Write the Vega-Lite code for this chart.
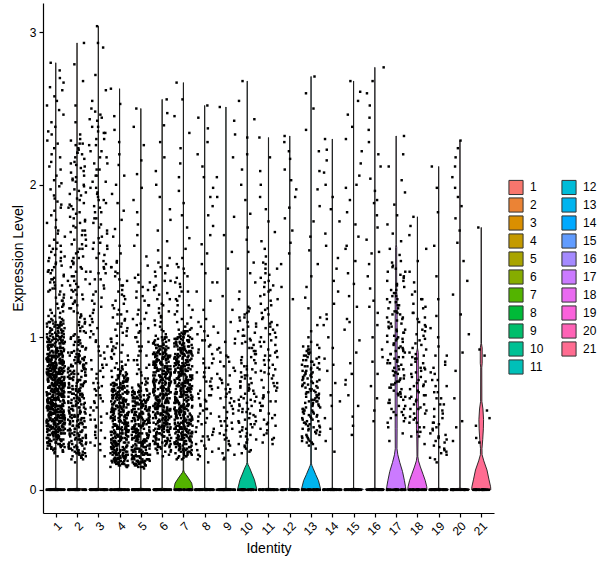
{
  "$schema": "https://vega.github.io/schema/vega-lite/v6.json",
  "width": 451,
  "height": 510,
  "autosize": {"type": "none"},
  "padding": {"left": 43, "top": 3, "right": 106, "bottom": 55},
  "config": {
    "font": "Liberation Sans",
    "view": {"stroke": null},
    "axis": {"grid": false, "domainColor": "#000", "domainWidth": 1.2, "tickColor": "#000", "tickWidth": 1.2, "tickSize": 4,
      "labelColor": "#000", "titleColor": "#000", "labelFontSize": 12, "titleFontSize": 14, "titleFontWeight": "normal"},
    "square": {"size": 6, "color": "#000", "opacity": 1},
    "legend": {"labelFontSize": 12, "labelColor": "#000"}
  },
  "datasets": {
    "violin": [
      {"g":1,"v":0,"w":0.45},{"g":1,"v":0.005,"w":0.45},{"g":1,"v":0.01,"w":0.004},{"g":1,"v":2.8,"w":0.004},
      {"g":2,"v":0,"w":0.45},{"g":2,"v":0.005,"w":0.45},{"g":2,"v":0.01,"w":0.004},{"g":2,"v":2.93,"w":0.004},
      {"g":3,"v":0,"w":0.45},{"g":3,"v":0.005,"w":0.45},{"g":3,"v":0.01,"w":0.004},{"g":3,"v":3.04,"w":0.004},
      {"g":4,"v":0,"w":0.45},{"g":4,"v":0.005,"w":0.45},{"g":4,"v":0.01,"w":0.004},{"g":4,"v":2.63,"w":0.004},
      {"g":5,"v":0,"w":0.45},{"g":5,"v":0.005,"w":0.45},{"g":5,"v":0.01,"w":0.004},{"g":5,"v":2.5,"w":0.004},
      {"g":6,"v":0,"w":0.45},{"g":6,"v":0.005,"w":0.45},{"g":6,"v":0.01,"w":0.004},{"g":6,"v":2.56,"w":0.004},
      {"g":7,"v":0,"w":0.45},{"g":7,"v":0.01,"w":0.44},{"g":7,"v":0.044,"w":0.39},{"g":7,"v":0.077,"w":0.235},{"g":7,"v":0.1,"w":0.12},{"g":7,"v":0.115,"w":0.04},{"g":7,"v":0.13,"w":0.012},{"g":7,"v":0.98,"w":0.01},{"g":7,"v":1.0,"w":0.004},{"g":7,"v":2.67,"w":0.004},
      {"g":8,"v":0,"w":0.45},{"g":8,"v":0.005,"w":0.45},{"g":8,"v":0.01,"w":0.004},{"g":8,"v":2.52,"w":0.004},
      {"g":9,"v":0,"w":0.45},{"g":9,"v":0.005,"w":0.45},{"g":9,"v":0.01,"w":0.004},{"g":9,"v":2.51,"w":0.004},
      {"g":10,"v":0,"w":0.45},{"g":10,"v":0.01,"w":0.44},{"g":10,"v":0.066,"w":0.34},{"g":10,"v":0.11,"w":0.21},{"g":10,"v":0.145,"w":0.11},{"g":10,"v":0.165,"w":0.04},{"g":10,"v":0.18,"w":0.012},{"g":10,"v":0.85,"w":0.01},{"g":10,"v":0.87,"w":0.004},{"g":10,"v":2.68,"w":0.004},
      {"g":11,"v":0,"w":0.45},{"g":11,"v":0.005,"w":0.45},{"g":11,"v":0.01,"w":0.004},{"g":11,"v":2.31,"w":0.004},
      {"g":12,"v":0,"w":0.45},{"g":12,"v":0.005,"w":0.45},{"g":12,"v":0.01,"w":0.004},{"g":12,"v":2.32,"w":0.004},
      {"g":13,"v":0,"w":0.45},{"g":13,"v":0.01,"w":0.44},{"g":13,"v":0.06,"w":0.35},{"g":13,"v":0.1,"w":0.22},{"g":13,"v":0.14,"w":0.1},{"g":13,"v":0.16,"w":0.04},{"g":13,"v":0.175,"w":0.015},{"g":13,"v":0.79,"w":0.012},{"g":13,"v":0.81,"w":0.004},{"g":13,"v":2.71,"w":0.004},
      {"g":14,"v":0,"w":0.45},{"g":14,"v":0.005,"w":0.45},{"g":14,"v":0.01,"w":0.004},{"g":14,"v":2.3,"w":0.004},
      {"g":15,"v":0,"w":0.45},{"g":15,"v":0.005,"w":0.45},{"g":15,"v":0.01,"w":0.004},{"g":15,"v":2.68,"w":0.004},
      {"g":16,"v":0,"w":0.45},{"g":16,"v":0.005,"w":0.45},{"g":16,"v":0.01,"w":0.004},{"g":16,"v":2.77,"w":0.004},
      {"g":17,"v":0,"w":0.45},{"g":17,"v":0.02,"w":0.44},{"g":17,"v":0.06,"w":0.39},{"g":17,"v":0.12,"w":0.3},{"g":17,"v":0.18,"w":0.17},{"g":17,"v":0.23,"w":0.08},{"g":17,"v":0.27,"w":0.04},{"g":17,"v":0.4,"w":0.045},{"g":17,"v":1.27,"w":0.045},{"g":17,"v":1.3,"w":0.025},{"g":17,"v":1.59,"w":0.025},{"g":17,"v":1.61,"w":0.004},{"g":17,"v":2.32,"w":0.004},
      {"g":18,"v":0,"w":0.45},{"g":18,"v":0.02,"w":0.44},{"g":18,"v":0.06,"w":0.37},{"g":18,"v":0.1,"w":0.27},{"g":18,"v":0.15,"w":0.14},{"g":18,"v":0.19,"w":0.05},{"g":18,"v":0.22,"w":0.02},{"g":18,"v":0.35,"w":0.03},{"g":18,"v":0.4,"w":0.045},{"g":18,"v":0.9,"w":0.04},{"g":18,"v":0.93,"w":0.004},{"g":18,"v":1.79,"w":0.004},
      {"g":19,"v":0,"w":0.45},{"g":19,"v":0.005,"w":0.45},{"g":19,"v":0.01,"w":0.004},{"g":19,"v":2.12,"w":0.004},
      {"g":20,"v":0,"w":0.45},{"g":20,"v":0.005,"w":0.45},{"g":20,"v":0.01,"w":0.004},{"g":20,"v":2.29,"w":0.004},
      {"g":21,"v":0,"w":0.45},{"g":21,"v":0.02,"w":0.44},{"g":21,"v":0.07,"w":0.36},{"g":21,"v":0.13,"w":0.27},{"g":21,"v":0.19,"w":0.12},{"g":21,"v":0.23,"w":0.04},{"g":21,"v":0.27,"w":0.035},{"g":21,"v":0.33,"w":0.07},{"g":21,"v":0.4,"w":0.1},{"g":21,"v":0.46,"w":0.11},{"g":21,"v":0.53,"w":0.08},{"g":21,"v":0.58,"w":0.03},{"g":21,"v":0.8,"w":0.025},{"g":21,"v":0.83,"w":0.045},{"g":21,"v":0.93,"w":0.045},{"g":21,"v":0.96,"w":0.012},{"g":21,"v":1.72,"w":0.004}
    ],
    "g1": [0,0,0,0,0,0,0,0,0,0,0,0,0,0,0,0,0,0,0,0,0,0,0,0,0,0,0,0,0,0,0,0,
      0.22,0.24,0.25,0.26,0.27,0.27,0.28,0.29,0.29,0.3,0.31,0.31,0.32,0.32,0.33,0.33,0.34,0.34,0.35,0.35,0.36,0.36,0.37,0.37,0.38,0.38,0.38,0.39,0.39,0.4,0.4,0.41,0.41,0.41,0.42,0.42,0.43,0.43,0.43,0.44,0.44,0.45,0.45,0.45,0.46,0.46,0.47,0.47,0.47,0.48,0.48,0.49,0.49,0.49,0.5,0.5,0.51,0.51,0.51,0.52,0.52,0.53,0.53,0.53,0.54,0.54,0.55,0.55,0.55,0.56,0.56,0.57,0.57,0.57,0.58,0.58,0.59,0.59,0.59,0.6,0.6,0.61,0.61,0.61,0.62,0.62,0.63,0.63,0.63,0.64,0.64,0.65,0.65,0.65,0.66,0.66,0.67,0.67,0.68,0.68,0.69,0.69,0.69,0.7,0.7,0.71,0.71,0.72,0.72,0.72,0.73,0.73,0.74,0.74,0.75,0.75,0.76,0.76,0.77,0.77,0.78,0.78,0.79,0.79,0.8,0.8,0.81,0.81,0.82,0.82,0.83,0.83,0.84,0.84,0.85,0.85,0.86,0.86,0.87,0.88,0.88,0.89,0.89,0.9,0.91,0.91,0.92,0.93,0.93,0.94,0.95,0.95,0.96,0.97,0.97,0.98,0.99,1.0,1.0,1.01,1.02,1.03,1.04,1.05,1.06,1.07,1.08,1.09,1.1,1.11,1.13,1.14,1.16,1.17,1.19,1.21,1.22,1.24,1.26,1.28,1.3,1.32,1.34,1.36,1.39,1.41,1.44,1.47,1.5,1.53,1.56,1.6,1.64,1.68,1.72,1.77,1.8,1.85,1.89,1.93,1.97,2.01,2.06,2.1,2.15,2.2,2.24,2.29,2.35,2.41,2.46,2.52,2.58,2.64,2.7,2.8,1.31,1.38,1.43,1.49,1.52,1.58,1.62,1.66,1.7,1.75,1.83,1.87,1.91,1.99,2.03,2.12,2.18,2.27,2.33,2.38,2.49,2.55,2.62,2.67,2.75,
      0.3,0.31,0.32,0.33,0.34,0.35,0.36,0.37,0.38,0.39,0.4,0.41,0.42,0.43,0.44,0.45,0.46,0.47,0.48,0.49,0.5,0.51,0.52,0.53,0.54,0.55,0.56,0.57,0.58,0.59,0.6,0.61,0.62,0.63,0.64,0.65,0.66,0.67,0.68,0.69,0.7,0.71,0.72,0.73,0.74,0.75,0.76,0.77,0.78,0.79,0.8,0.81,0.82,0.83,0.84,0.85,0.86,0.87,0.88,0.89,0.9,0.91,0.92,0.93,0.94,0.95,0.96,0.97,0.98,0.99,1.0,1.01,1.02,1.03,1.04,1.05,1.06,1.07,1.08,1.09,1.1,
      0.35,0.36,0.37,0.38,0.39,0.4,0.41,0.42,0.43,0.44,0.45,0.46,0.47,0.48,0.49,0.5,0.51,0.52,0.53,0.54,0.55,0.56,0.57,0.58,0.59,0.6,0.61,0.62,0.63,0.64,0.65,0.66,0.67,0.68,0.69,0.7,0.71,0.72,0.73,0.74,0.75,0.76,0.77,0.78,0.79,0.8,0.81,0.82,0.83,0.84,0.85,0.86,0.87,0.88,0.89,0.9,0.91,0.92,0.93,0.94,0.95,0.96,0.97,0.98,0.99,1.0,
      0.4,0.41,0.42,0.43,0.44,0.45,0.46,0.47,0.48,0.49,0.5,0.51,0.52,0.53,0.54,0.55,0.56,0.57,0.58,0.59,0.6,0.61,0.62,0.63,0.64,0.65,0.66,0.67,0.68,0.69,0.7,0.71,0.72,0.73,0.74,0.75,0.76,0.77,0.78,0.79,0.8,0.81,0.82,0.83,0.84,0.85,0.86,0.87,0.88,0.89,0.9,
      0.25,0.27,0.29,0.31,0.33,0.35,0.37,0.39,0.41,0.43,0.45,0.47,0.49,0.51,0.53,0.55,0.57,0.59,1.12,1.14,1.16,1.18,1.2,1.22,1.24,1.26,1.28,1.3,1.32,1.34,1.36,1.38,1.4,1.42,1.44,1.46,1.48,1.5,1.52,1.54,1.56,1.58,1.6,
      0.25,0.26,0.27,0.28,0.29,0.3,0.31,0.32,0.33,0.34,0.35,0.36,0.37,0.38,0.39,0.4,0.41,0.42,0.43,0.44,0.45,0.46,0.47,0.48,0.49,0.5,0.51,0.52,0.53,0.54,0.55,0.56,0.57,0.58,0.59,0.6,0.61,0.62,0.63,0.64,0.65,0.66,0.67,0.68,0.69,0.7,0.71,0.72,0.73,0.74,0.75,0.76,0.77,0.78,0.79,0.8,0.81,0.82,0.83,0.84,0.85,0.86,0.87,0.88,0.89,0.9,0.91,0.92,0.93,0.94,0.95,0.96,0.97,0.98,0.99,1.0,1.01,1.02,1.03,1.04,1.05,1.06,1.07,1.08,1.09,1.1,1.11,1.12,
      0.27,0.28,0.29,0.3,0.31,0.32,0.33,0.34,0.35,0.36,0.37,0.38,0.39,0.4,0.41,0.42,0.43,0.44,0.45,0.46,0.47,0.48,0.49,0.5,0.51,0.52,0.53,0.54,0.55,0.56,0.57,0.58,0.59,0.6,0.61,0.62,0.63,0.64,0.65,0.66,0.67,0.68,0.69,0.7,0.71,0.72,0.73,0.74,0.75,0.76,0.77,0.78,0.79,0.8,0.81,0.82,0.83,0.84,0.85,0.86,0.87,0.88,0.89,0.9,0.91,0.92,0.93,0.94,0.95,0.96,0.97,0.98,0.99,1.0,1.01,1.02,1.03,1.04,1.05,1.06,1.07,1.08,1.09,1.1,
      0.45,0.46,0.47,0.48,0.49,0.5,0.51,0.52,0.53,0.54,0.55,0.56,0.57,0.58,0.59,0.6,0.61,0.62,0.63,0.64,0.65,0.66,0.67,0.68,0.69,0.7,0.71,0.72,0.73,0.74,0.75,0.76,0.77,0.78,0.79,0.8,0.81,0.82,0.83,0.84,0.85],
    "g2": [0,0,0,0,0,0,0,0,0,0,0,0,0,0,0,0,0,0,0,0,0,0,0,0,0,0,0,0,0,0,0,0,
      0.18,0.2,0.21,0.22,0.23,0.24,0.24,0.25,0.26,0.27,0.27,0.28,0.29,0.3,0.3,0.31,0.32,0.33,0.33,0.34,0.35,0.36,0.36,0.37,0.38,0.39,0.39,0.4,0.41,0.42,0.42,0.43,0.44,0.45,0.45,0.46,0.47,0.48,0.48,0.49,0.5,0.51,0.51,0.52,0.53,0.54,0.54,0.55,0.56,0.57,0.57,0.58,0.59,0.6,0.6,0.61,0.62,0.63,0.63,0.64,0.65,0.66,0.66,0.67,0.68,0.69,0.7,0.71,0.72,0.72,0.73,0.74,0.75,0.76,0.77,0.78,0.79,0.8,0.81,0.82,0.83,0.84,0.85,0.86,0.87,0.88,0.9,0.91,0.92,0.94,0.95,0.97,0.98,1.0,1.02,1.04,1.06,1.08,1.1,1.12,1.14,1.17,1.19,1.21,1.23,1.26,1.28,1.3,1.33,1.35,1.38,1.4,1.43,1.45,1.48,1.5,1.53,1.56,1.58,1.61,1.64,1.67,1.7,1.72,1.75,1.78,1.81,1.84,1.87,1.9,1.93,1.96,1.99,2.02,2.05,2.08,2.11,2.14,2.17,2.2,2.23,2.26,2.29,2.33,2.41,2.52,2.68,2.79,2.93,1.03,1.09,1.15,1.24,1.31,1.37,1.46,1.52,1.6,1.69,1.77,1.86,1.95,2.04,2.13,2.21,2.27,
      0.2,0.21,0.22,0.23,0.24,0.25,0.26,0.27,0.28,0.29,0.3,0.31,0.32,0.33,0.34,0.35,0.36,0.37,0.38,0.39,0.4,0.41,0.42,0.43,0.44,0.45,0.46,0.47,0.48,0.49,0.5,0.51,0.52,0.53,0.54,0.55,0.56,0.57,0.58,0.59,0.6,0.61,0.62,0.63,0.64,0.65,0.66,0.67,0.68,0.69,0.7,0.71,0.72,0.73,0.74,0.75,0.76,0.77,0.78,0.79,0.8,0.81,0.82,0.83,0.84,0.85,0.86,0.87,0.88,0.89,0.9,0.91,0.92,0.93,0.94,0.95,0.96,0.97,0.98,0.99,1.0,
      1.01,1.04,1.07,1.1,1.13,1.16,1.19,1.22,1.25,1.28,1.31,1.34,1.37,1.4,1.43,1.46,1.49,1.52,1.55,1.58,1.61,1.64,1.67,1.7,1.73,1.76,1.79,1.82,1.85,1.88,1.91,1.94,1.97,2.0,2.03,2.06,2.09,2.12,2.15,2.18,2.21,2.24,2.27,2.3,
      0.22,0.23,0.24,0.25,0.26,0.27,0.28,0.29,0.3,0.31,0.32,0.33,0.34,0.35,0.36,0.37,0.38,0.39,0.4,0.41,0.42,0.43,0.44,0.45,0.46,0.47,0.48,0.49,0.5,0.51,0.52,0.53,0.54,0.55,0.56,0.57,0.58,0.59,0.6,0.61,0.62,0.63,0.64,0.65,0.66,0.67,0.68,0.69,0.7,0.71,0.72,0.73,0.74,0.75,0.76,0.77,0.78,0.79,0.8,0.81,0.82,0.83,0.84,0.85,0.86,0.87,0.88,0.89,0.9],
    "g3": [0,0,0,0,0,0,0,0,0,0,0,0,0,0,0,0,0,0,0,0,0,0,0,0,0,0,0,0,0,0,0,0,
      0.22,0.26,0.29,0.31,0.34,0.36,0.39,0.41,0.44,0.46,0.49,0.52,0.54,0.57,0.6,0.62,0.65,0.68,0.7,0.73,0.76,0.79,0.82,0.85,0.88,0.91,0.94,0.97,1.0,1.04,1.08,1.12,1.16,1.2,1.24,1.28,1.32,1.35,1.38,1.42,1.45,1.48,1.52,1.55,1.58,1.62,1.65,1.68,1.72,1.75,1.78,1.82,1.85,1.88,1.92,1.95,1.98,2.02,2.06,2.1,2.14,2.18,2.22,2.26,2.3,2.34,2.38,2.43,2.48,2.55,2.62,2.72,2.9,2.93,3.04,0.48,0.58,0.67,0.8,1.43,1.6,1.9,2.35,2.44,2.5,
      0.3,0.34,0.38,0.42,0.46,0.5,0.54,0.58,0.62,0.66,0.7,0.74,0.78,0.82,0.86,0.9,0.94,0.98,1.02,1.06,1.1,1.14,1.18,1.22,1.26,1.3,1.34,1.38,1.42,1.46,1.5,1.54,1.58,1.62,1.66,1.7,1.74,1.78,1.82,1.86,1.9,1.94,1.98,2.02,2.06,2.1,2.14,2.18,2.22,2.26,2.3,2.34,2.38,2.42,2.46],
    "g4": [0,0,0,0,0,0,0,0,0,0,0,0,0,0,0,0,0,0,0,0,0,0,0,0,0,0,0,0,0,0,0,0,
      0.15,0.16,0.17,0.17,0.18,0.19,0.19,0.2,0.21,0.21,0.22,0.23,0.23,0.24,0.25,0.25,0.26,0.27,0.27,0.28,0.29,0.29,0.3,0.31,0.31,0.32,0.33,0.33,0.34,0.35,0.35,0.36,0.37,0.37,0.38,0.39,0.39,0.4,0.41,0.41,0.42,0.43,0.43,0.44,0.45,0.45,0.46,0.47,0.47,0.48,0.49,0.49,0.5,0.51,0.51,0.52,0.53,0.54,0.55,0.55,0.56,0.57,0.58,0.59,0.6,0.6,0.61,0.62,0.63,0.64,0.65,0.66,0.67,0.68,0.69,0.7,0.71,0.72,0.73,0.74,0.75,0.76,0.77,0.78,0.79,0.8,0.82,0.84,0.86,0.88,0.9,0.92,0.94,0.96,0.99,1.01,1.04,1.06,1.09,1.12,1.15,1.18,1.21,1.24,1.27,1.3,1.34,1.38,1.42,1.46,1.5,1.55,1.6,1.66,1.71,1.77,1.83,1.88,1.94,2.0,2.06,2.13,2.2,2.28,2.36,2.45,2.53,2.63,
      0.15,0.16,0.17,0.18,0.19,0.2,0.21,0.22,0.23,0.24,0.25,0.26,0.27,0.28,0.29,0.3,0.31,0.32,0.33,0.34,0.35,0.36,0.37,0.38,0.39,0.4,0.41,0.42,0.43,0.44,0.45,0.46,0.47,0.48,0.49,0.5,0.51,0.52,0.53,0.54,0.55,0.56,0.57,0.58,0.59,0.6,0.61,0.62,0.63,0.64,0.65,0.66,0.67,0.68,0.69,0.7,0.71,0.72,0.73,0.74,0.75,0.76,0.77,0.78,0.79,0.8,
      0.18,0.19,0.2,0.21,0.22,0.23,0.24,0.25,0.26,0.27,0.28,0.29,0.3,0.31,0.32,0.33,0.34,0.35,0.36,0.37,0.38,0.39,0.4,0.41,0.42,0.43,0.44,0.45,0.46,0.47,0.48,0.49,0.5,0.51,0.52,0.53,0.54,0.55,0.56,0.57,0.58,0.59,0.6,0.61,0.62,0.63,0.64,0.65,0.66,0.67,0.68,0.69,0.7,0.71,0.72,0.73,0.74,0.75,
      0.81,0.83,0.85,0.87,0.89,0.91,0.93,0.95,0.97,0.99,1.01,1.03,1.05,1.07,1.09,1.11,1.13,1.15,1.17,1.19,1.22,1.25,1.28,1.31,1.34,1.37,1.4,1.43,1.46,1.49,
      0.15,0.16,0.17,0.18,0.19,0.2,0.21,0.22,0.23,0.24,0.25,0.26,0.27,0.28,0.29,0.3,0.31,0.32,0.33,0.34,0.35,0.36,0.37,0.38,0.39,0.4,0.41,0.42,0.43,0.44,0.45,0.46,0.47,0.48,0.49,0.5,0.51,0.52,0.53,0.54,0.55,0.56,0.57,0.58,0.59,0.6,0.61,0.62,0.63,0.64,0.65,0.66,0.67,0.68,0.69,0.7,0.71,0.72,0.73,0.74,0.75,
      0.16,0.17,0.18,0.19,0.2,0.21,0.22,0.23,0.24,0.25,0.26,0.27,0.28,0.29,0.3,0.31,0.32,0.33,0.34,0.35,0.36,0.37,0.38,0.39,0.4,0.41,0.42,0.43,0.44,0.45,0.46,0.47,0.48,0.49,0.5,0.51,0.52,0.53,0.54,0.55,0.56,0.57,0.58,0.59,0.6,0.61,0.62,0.63,0.64,0.65,0.66,0.67,0.68,0.69,0.7],
    "g5": [0,0,0,0,0,0,0,0,0,0,0,0,0,0,0,0,0,0,0,0,0,0,0,0,0,0,0,0,0,0,0,0,
      0.14,0.15,0.16,0.17,0.17,0.18,0.19,0.2,0.2,0.21,0.22,0.23,0.23,0.24,0.25,0.26,0.26,0.27,0.28,0.29,0.29,0.3,0.31,0.32,0.32,0.33,0.34,0.35,0.35,0.36,0.37,0.38,0.38,0.39,0.4,0.41,0.42,0.43,0.44,0.45,0.46,0.47,0.48,0.49,0.5,0.51,0.52,0.53,0.54,0.55,0.56,0.57,0.58,0.6,0.61,0.62,0.64,0.65,0.67,0.69,0.71,0.73,0.75,0.77,0.8,0.82,0.85,0.88,0.91,0.94,0.97,1.0,1.04,1.08,1.12,1.16,1.21,1.26,1.31,1.36,1.41,1.47,1.53,1.6,1.67,1.74,1.82,1.9,1.98,2.07,2.16,2.26,2.38,2.5,
      0.15,0.16,0.17,0.18,0.19,0.2,0.21,0.22,0.23,0.24,0.25,0.26,0.27,0.28,0.29,0.3,0.31,0.32,0.33,0.34,0.35,0.36,0.37,0.38,0.39,0.4,0.41,0.42,0.43,0.44,0.45,0.46,0.47,0.48,0.49,0.5,0.51,0.52,0.53,0.54,0.55,0.56,0.57,0.58,0.59,0.6,0.61,0.62,0.63,0.64,0.65,0.66,0.67,0.68,0.69,0.7,
      0.17,0.18,0.19,0.2,0.21,0.22,0.23,0.24,0.25,0.26,0.27,0.28,0.29,0.3,0.31,0.32,0.33,0.34,0.35,0.36,0.37,0.38,0.39,0.4,0.41,0.42,0.43,0.44,0.45,0.46,0.47,0.48,0.49,0.5,0.51,0.52,0.53,0.54,0.55,0.56,0.57,0.58,0.59,0.6,0.61,0.62,0.63,0.64,0.65,
      0.7,0.73,0.76,0.79,0.82,0.85,0.88,0.91,0.94,0.97,1.0,1.03,1.06,1.09,1.12,1.15,1.18,1.21,1.24,1.27,1.3,1.33,1.36,1.39,
      0.15,0.16,0.17,0.18,0.19,0.2,0.21,0.22,0.23,0.24,0.25,0.26,0.27,0.28,0.29,0.3,0.31,0.32,0.33,0.34,0.35,0.36,0.37,0.38,0.39,0.4,0.41,0.42,0.43,0.44,0.45,0.46,0.47,0.48,0.49,0.5,0.51,0.52,0.53,0.54,0.55,0.56,0.57,0.58,0.59,0.6,0.61,0.62,0.63,0.64,0.65,
      0.16,0.17,0.18,0.19,0.2,0.21,0.22,0.23,0.24,0.25,0.26,0.27,0.28,0.29,0.3,0.31,0.32,0.33,0.34,0.35,0.36,0.37,0.38,0.39,0.4,0.41,0.42,0.43,0.44,0.45,0.46,0.47,0.48,0.49,0.5,0.51,0.52,0.53,0.54,0.55,0.56,0.57,0.58,0.59,0.6],
    "g6": [0,0,0,0,0,0,0,0,0,0,0,0,0,0,0,0,0,0,0,0,0,0,0,0,0,0,0,0,0,0,0,0,
      0.22,0.23,0.24,0.25,0.26,0.27,0.28,0.29,0.3,0.3,0.31,0.32,0.33,0.34,0.35,0.35,0.36,0.37,0.38,0.39,0.4,0.4,0.41,0.42,0.43,0.44,0.45,0.45,0.46,0.47,0.48,0.49,0.5,0.5,0.51,0.52,0.53,0.54,0.55,0.55,0.56,0.57,0.58,0.59,0.6,0.6,0.61,0.62,0.63,0.64,0.65,0.65,0.66,0.67,0.68,0.69,0.7,0.7,0.71,0.72,0.73,0.74,0.75,0.75,0.76,0.77,0.78,0.79,0.8,0.81,0.82,0.83,0.84,0.85,0.86,0.87,0.88,0.89,0.9,0.92,0.93,0.95,0.96,0.98,1.0,1.02,1.05,1.08,1.11,1.14,1.17,1.21,1.25,1.29,1.33,1.37,1.42,1.47,1.52,1.57,1.63,1.7,1.77,1.84,1.92,2.0,2.09,2.18,2.28,2.39,2.47,2.56,
      0.25,0.26,0.27,0.28,0.29,0.3,0.31,0.32,0.33,0.34,0.35,0.36,0.37,0.38,0.39,0.4,0.41,0.42,0.43,0.44,0.45,0.46,0.47,0.48,0.49,0.5,0.51,0.52,0.53,0.54,0.55,0.56,0.57,0.58,0.59,0.6,0.61,0.62,0.63,0.64,0.65,0.66,0.67,0.68,0.69,0.7,0.71,0.72,0.73,0.74,0.75,0.76,0.77,0.78,0.79,0.8,0.81,0.82,0.83,0.84,0.85,0.86,0.87,0.88,0.89,0.9,0.91,0.92,0.93,0.94,0.95,0.96,0.97,0.98,0.99,1.0,
      0.3,0.31,0.32,0.33,0.34,0.35,0.36,0.37,0.38,0.39,0.4,0.41,0.42,0.43,0.44,0.45,0.46,0.47,0.48,0.49,0.5,0.51,0.52,0.53,0.54,0.55,0.56,0.57,0.58,0.59,0.6,0.61,0.62,0.63,0.64,0.65,0.66,0.67,0.68,0.69,0.7,0.71,0.72,0.73,0.74,0.75,0.76,0.77,0.78,0.79,0.8,0.81,0.82,0.83,0.84,0.85,0.86,0.87,0.88,0.89,0.9,0.91,0.92,0.93,0.94,0.95,
      1.01,1.04,1.07,1.1,1.13,1.16,1.19,1.22,1.25,1.28,1.31,1.34,1.37,1.4,1.43,1.46,1.49,
      0.28,0.29,0.3,0.31,0.32,0.33,0.34,0.35,0.36,0.37,0.38,0.39,0.4,0.41,0.42,0.43,0.44,0.45,0.46,0.47,0.48,0.49,0.5,0.51,0.52,0.53,0.54,0.55,0.56,0.57,0.58,0.59,0.6,0.61,0.62,0.63,0.64,0.65,0.66,0.67,0.68,0.69,0.7,0.71,0.72,0.73,0.74,0.75,0.76,0.77,0.78,0.79,0.8,0.81,0.82,0.83,0.84,0.85,0.86,0.87,0.88,0.89,0.9,0.91,0.92,0.93,0.94,0.95,0.96,0.97,0.98,0.99,1.0,
      0.4,0.41,0.42,0.43,0.44,0.45,0.46,0.47,0.48,0.49,0.5,0.51,0.52,0.53,0.54,0.55,0.56,0.57,0.58,0.59,0.6,0.61,0.62,0.63,0.64,0.65,0.66,0.67,0.68,0.69,0.7,0.71,0.72,0.73,0.74,0.75,0.76,0.77,0.78,0.79,0.8,0.81,0.82,0.83,0.84,0.85,0.86,0.87,0.88,0.89,0.9],
    "g7": [0,0,0,0,0,0,0,0,0,0,0,0,0,0,0,0,0,0,0,0,0,0,0,0,0,0,0,0,0,0,0,0,
      0.2,0.21,0.22,0.23,0.24,0.24,0.25,0.26,0.27,0.27,0.28,0.29,0.3,0.3,0.31,0.32,0.33,0.33,0.34,0.35,0.35,0.36,0.37,0.38,0.38,0.39,0.4,0.4,0.41,0.42,0.42,0.43,0.44,0.44,0.45,0.46,0.46,0.47,0.48,0.48,0.49,0.5,0.5,0.51,0.52,0.52,0.53,0.54,0.54,0.55,0.56,0.56,0.57,0.58,0.58,0.59,0.6,0.6,0.61,0.62,0.62,0.63,0.64,0.64,0.65,0.66,0.66,0.67,0.68,0.68,0.69,0.7,0.7,0.71,0.72,0.72,0.73,0.74,0.75,0.75,0.76,0.77,0.78,0.78,0.79,0.8,0.81,0.82,0.83,0.84,0.85,0.86,0.87,0.88,0.89,0.9,0.91,0.92,0.93,0.94,0.96,0.97,0.99,1.0,1.02,1.04,1.07,1.1,1.13,1.17,1.21,1.25,1.3,1.35,1.4,1.46,1.52,1.58,1.65,1.72,1.8,1.88,1.96,2.05,2.14,2.24,2.34,2.45,2.56,2.67,
      0.2,0.21,0.22,0.23,0.24,0.25,0.26,0.27,0.28,0.29,0.3,0.31,0.32,0.33,0.34,0.35,0.36,0.37,0.38,0.39,0.4,0.41,0.42,0.43,0.44,0.45,0.46,0.47,0.48,0.49,0.5,0.51,0.52,0.53,0.54,0.55,0.56,0.57,0.58,0.59,0.6,0.61,0.62,0.63,0.64,0.65,0.66,0.67,0.68,0.69,0.7,0.71,0.72,0.73,0.74,0.75,0.76,0.77,0.78,0.79,0.8,0.81,0.82,0.83,0.84,0.85,0.86,0.87,0.88,0.89,0.9,0.91,0.92,0.93,0.94,0.95,0.96,0.97,0.98,0.99,1.0,1.01,1.02,1.03,1.04,1.05,
      0.25,0.26,0.27,0.28,0.29,0.3,0.31,0.32,0.33,0.34,0.35,0.36,0.37,0.38,0.39,0.4,0.41,0.42,0.43,0.44,0.45,0.46,0.47,0.48,0.49,0.5,0.51,0.52,0.53,0.54,0.55,0.56,0.57,0.58,0.59,0.6,0.61,0.62,0.63,0.64,0.65,0.66,0.67,0.68,0.69,0.7,0.71,0.72,0.73,0.74,0.75,0.76,0.77,0.78,0.79,0.8,0.81,0.82,0.83,0.84,0.85,0.86,0.87,0.88,0.89,0.9,0.91,0.92,0.93,0.94,0.95,0.96,0.97,0.98,0.99,1.0,
      1.06,1.09,1.12,1.15,1.18,1.21,1.24,1.27,1.3,1.33,1.36,1.39,1.42,1.45,1.48,
      0.22,0.23,0.24,0.25,0.26,0.27,0.28,0.29,0.3,0.31,0.32,0.33,0.34,0.35,0.36,0.37,0.38,0.39,0.4,0.41,0.42,0.43,0.44,0.45,0.46,0.47,0.48,0.49,0.5,0.51,0.52,0.53,0.54,0.55,0.56,0.57,0.58,0.59,0.6,0.61,0.62,0.63,0.64,0.65,0.66,0.67,0.68,0.69,0.7,0.71,0.72,0.73,0.74,0.75,0.76,0.77,0.78,0.79,0.8,0.81,0.82,0.83,0.84,0.85,0.86,0.87,0.88,0.89,0.9,0.91,0.92,0.93,0.94,0.95,0.96,0.97,0.98,0.99,1.0,1.01,1.02,1.03,1.04,1.05,
      0.3,0.31,0.32,0.33,0.34,0.35,0.36,0.37,0.38,0.39,0.4,0.41,0.42,0.43,0.44,0.45,0.46,0.47,0.48,0.49,0.5,0.51,0.52,0.53,0.54,0.55,0.56,0.57,0.58,0.59,0.6,0.61,0.62,0.63,0.64,0.65,0.66,0.67,0.68,0.69,0.7,0.71,0.72,0.73,0.74,0.75,0.76,0.77,0.78,0.79,0.8,0.81,0.82,0.83,0.84,0.85,0.86,0.87,0.88,0.89,0.9,0.91,0.92,0.93,0.94,0.95,0.96,0.97,0.98,0.99,1.0],
    "g8": [0,0,0,0,0,0,0,0,0,0,0,0,0,0,0,0,0,0,0,0,0,0,0,0,0,0,0,0,0,0,0,0,
      0.18,0.22,0.25,0.27,0.3,0.33,0.35,0.38,0.4,0.43,0.45,0.48,0.5,0.53,0.55,0.58,0.6,0.63,0.66,0.68,0.71,0.74,0.77,0.8,0.83,0.86,0.9,0.94,0.98,1.02,1.07,1.12,1.18,1.24,1.3,1.36,1.42,1.48,1.55,1.61,1.67,1.73,1.8,1.86,1.92,1.98,2.05,2.12,2.2,2.28,2.37,2.44,2.52,0.36,0.52,0.62,0.73,
      0.2,0.23,0.26,0.29,0.32,0.35,0.38,0.41,0.44,0.47,0.5,0.53,0.56,0.59,0.62,0.65,0.68,0.71,0.74,0.77,0.8,0.83,0.86,0.89,0.92,0.95,0.98,1.01,1.04,1.07,1.1],
    "g9": [0,0,0,0,0,0,0,0,0,0,0,0,0,0,0,0,0,0,0,0,0,0,0,0,0,0,0,0,0,0,0,0,
      0.2,0.23,0.26,0.29,0.32,0.34,0.37,0.4,0.42,0.45,0.47,0.5,0.53,0.55,0.58,0.61,0.64,0.67,0.7,0.73,0.76,0.8,0.84,0.88,0.92,0.97,1.03,1.1,1.18,1.27,1.36,1.45,1.56,1.67,1.79,1.92,2.05,2.18,2.33,2.42,2.51,0.44,0.6,0.66,
      0.21,0.24,0.27,0.3,0.33,0.36,0.39,0.42,0.45,0.48,0.51,0.54,0.57,0.6,0.63,0.66,0.69,0.72,0.75,0.78,0.81,0.84,0.87,0.9,0.93,0.96,0.99],
    "g10": [0,0,0,0,0,0,0,0,0,0,0,0,0,0,0,0,0,0,0,0,0,0,0,0,0,0,0,0,0,0,0,0,
      0.24,0.26,0.28,0.3,0.31,0.33,0.35,0.36,0.38,0.4,0.41,0.43,0.45,0.46,0.48,0.5,0.51,0.53,0.55,0.56,0.58,0.6,0.61,0.63,0.65,0.66,0.68,0.7,0.71,0.73,0.75,0.77,0.79,0.81,0.83,0.85,0.87,0.89,0.91,0.93,0.96,0.98,1.01,1.04,1.07,1.1,1.13,1.16,1.2,1.25,1.3,1.36,1.42,1.49,1.56,1.64,1.72,1.81,1.9,2.0,2.1,2.2,2.31,2.43,2.55,2.68,0.44,0.52,0.59,0.67,0.74,
      0.25,0.27,0.29,0.31,0.33,0.35,0.37,0.39,0.41,0.43,0.45,0.47,0.49,0.51,0.53,0.55,0.57,0.59,0.61,0.63,0.65,0.67,0.69,0.71,0.73,0.75,0.77,0.79,0.81,0.83,0.85,0.87,0.89,0.91,0.93,0.95,0.97,0.99,1.01,1.03,1.05,1.07,1.09,1.11,1.13,1.15,1.17,1.19],
    "g11": [0,0,0,0,0,0,0,0,0,0,0,0,0,0,0,0,0,0,0,0,0,0,0,0,0,0,0,0,0,0,0,0,
      0.3,0.33,0.36,0.39,0.42,0.44,0.47,0.5,0.52,0.55,0.57,0.6,0.62,0.65,0.67,0.7,0.72,0.75,0.77,0.8,0.82,0.85,0.87,0.9,0.92,0.95,0.97,1.0,1.02,1.05,1.08,1.1,1.13,1.16,1.19,1.22,1.25,1.28,1.31,1.34,1.37,1.41,1.45,1.49,1.53,1.58,1.63,1.69,1.76,1.84,1.92,2.0,2.09,2.18,2.31,0.58,0.68,0.78,0.88,0.98,1.07,
      0.31,0.34,0.37,0.4,0.43,0.46,0.49,0.52,0.55,0.58,0.61,0.64,0.67,0.7,0.73,0.76,0.79,0.82,0.85,0.88,0.91,0.94,0.97,1.0,1.03,1.06,1.09,1.12,1.15,1.18,1.21,1.24,1.27,1.3,1.33,1.36,1.39,1.42,1.45,1.48],
    "g12": [0,0,0,0,0,0,0,0,0,0,0,0,0,0,0,0,0,0,0,0,0,0,0,0,0,0,0,0,0,0,0,0,1.25,1.33,1.48,1.55,1.62,1.7,1.78,1.85,1.92,1.97,2.03,2.1,2.17,2.22,2.28,2.32],
    "g13": [0,0,0,0,0,0,0,0,0,0,0,0,0,0,0,0,0,0,0,0,0,0,0,0,0,0,0,0,0,0,0,0,
      0.27,0.29,0.31,0.32,0.34,0.35,0.36,0.38,0.39,0.4,0.41,0.42,0.43,0.44,0.45,0.46,0.47,0.48,0.49,0.5,0.51,0.52,0.52,0.53,0.54,0.55,0.56,0.57,0.58,0.58,0.59,0.6,0.61,0.62,0.63,0.64,0.64,0.65,0.66,0.67,0.68,0.69,0.7,0.71,0.72,0.73,0.74,0.75,0.76,0.77,0.78,0.79,0.8,0.81,0.82,0.84,0.85,0.87,0.88,0.9,0.92,0.94,0.97,1.0,1.04,1.08,1.13,1.19,1.26,1.33,1.4,1.48,1.57,1.66,1.76,1.86,1.97,2.09,2.22,2.36,2.5,2.6,2.71,
      0.3,0.31,0.32,0.33,0.34,0.35,0.36,0.37,0.38,0.39,0.4,0.41,0.42,0.43,0.44,0.45,0.46,0.47,0.48,0.49,0.5,0.51,0.52,0.53,0.54,0.55,0.56,0.57,0.58,0.59,0.6,0.61,0.62,0.63,0.64,0.65,0.66,0.67,0.68,0.69,0.7,0.71,0.72,0.73,0.74,0.75,0.76,0.77,0.78,0.79,0.8,0.81,0.82,0.83,0.84,0.85,0.86,0.87,0.88,0.89,0.9,0.91,0.92,0.93,0.94,0.95],
    "g14": [0,0,0,0,0,0,0,0,0,0,0,0,0,0,0,0,0,0,0,0,0,0,0,0,0,0,0,0,0,0,0,0,0.25,0.32,0.4,0.47,0.55,0.62,0.7,0.78,0.86,0.93,1.0,1.08,1.15,1.22,1.3,1.37,1.45,1.52,1.6,1.68,1.76,1.84,1.92,2.0,2.08,2.16,2.23,2.3,0.58,0.82,1.12],
    "g15": [0,0,0,0,0,0,0,0,0,0,0,0,0,0,0,0,0,0,0,0,0,0,0,0,0,0,0,0,0,0,0,0,0.36,0.42,0.48,0.55,0.62,0.69,0.76,0.83,0.9,0.98,1.05,1.12,1.2,1.27,1.35,1.42,1.5,1.58,1.66,1.74,1.82,1.9,1.98,2.06,2.14,2.22,2.3,2.38,2.46,2.55,2.61,2.68,0.72,1.1,1.6,2.0],
    "g16": [0,0,0,0,0,0,0,0,0,0,0,0,0,0,0,0,0,0,0,0,0,0,0,0,0,0,0,0,0,0,0,0,0.45,0.52,0.6,0.68,0.76,0.84,0.92,1.0,1.08,1.16,1.24,1.32,1.4,1.48,1.56,1.64,1.72,1.8,1.88,1.96,2.04,2.12,2.2,2.28,2.36,2.44,2.52,2.6,2.68,2.77,0.87,1.2,1.55,1.9],
    "g17": [0,0,0,0,0,0,0,0,0,0,0,0,0,0,0,0,0,0,0,0,0,0,0,0,0,0,0,0,0,0,0,0,
      0.32,0.37,0.41,0.44,0.47,0.49,0.51,0.53,0.55,0.57,0.59,0.61,0.62,0.64,0.66,0.67,0.69,0.7,0.72,0.73,0.75,0.76,0.78,0.79,0.8,0.82,0.83,0.85,0.86,0.87,0.89,0.9,0.92,0.93,0.94,0.96,0.97,0.99,1.0,1.01,1.03,1.04,1.06,1.07,1.09,1.1,1.12,1.13,1.15,1.17,1.19,1.21,1.23,1.25,1.27,1.29,1.31,1.34,1.37,1.4,1.43,1.46,1.5,1.54,1.58,1.63,1.68,1.74,1.8,1.87,1.95,2.03,2.12,2.2,2.32,0.63,0.71,0.77,0.84,0.91,0.98,1.05,1.16,
      0.45,0.47,0.49,0.51,0.53,0.55,0.57,0.59,0.61,0.63,0.65,0.67,0.69,0.71,0.73,0.75,0.77,0.79,0.81,0.83,0.85,0.87,0.89,0.91,0.93,0.95,0.97,0.99,1.01,1.03,1.05,1.07,1.09,1.11,1.13,1.15,1.17,1.19,1.21,1.23,1.25,1.27,1.29,1.31,1.33,1.35,1.37,1.39,1.41,1.43,1.45,1.47,1.49],
    "g18": [0,0,0,0,0,0,0,0,0,0,0,0,0,0,0,0,0,0,0,0,0,0,0,0,0,0,0,0,0,0,0,0,
      0.3,0.35,0.38,0.41,0.44,0.46,0.48,0.5,0.52,0.54,0.56,0.58,0.6,0.62,0.64,0.66,0.68,0.7,0.72,0.74,0.76,0.78,0.8,0.82,0.84,0.86,0.88,0.9,0.93,0.96,0.99,1.02,1.05,1.08,1.12,1.16,1.2,1.25,1.3,1.36,1.43,1.5,1.58,1.67,1.73,1.79,0.53,0.61,0.69,0.79,0.87,
      0.35,0.38,0.41,0.44,0.47,0.5,0.53,0.56,0.59,0.62,0.65,0.68,0.71,0.74,0.77,0.8,0.83,0.86,0.89,0.92,0.95,0.98,1.01,1.04,1.07,1.1,1.13,1.16,1.19,1.22,1.25,1.28],
    "g19": [0,0,0,0,0,0,0,0,0,0,0,0,0,0,0,0,0,0,0,0,0,0,0,0,0,0,0,0,0,0,0,0,
      0.18,0.21,0.23,0.25,0.27,0.29,0.31,0.33,0.35,0.37,0.39,0.41,0.44,0.47,0.5,0.53,0.56,0.6,0.64,0.68,0.72,0.77,0.82,0.88,0.94,1.0,1.06,1.14,1.25,1.4,1.6,1.82,1.98,2.12,0.26,0.34,0.43,
      0.2,0.24,0.28,0.32,0.36,0.4,0.44,0.48,0.52,0.56,0.6,0.64,0.68,0.72,0.76,0.8,0.84,0.88],
    "g20": [0,0,0,0,0,0,0,0,0,0,0,0,0,0,0,0,0,0,0,0,0,0,0,0,0,0,0,0,0,0,0,0,0.32,0.41,0.45,0.6,0.78,0.9,1.02,1.15,1.28,1.37,1.5,1.62,1.7,1.78,1.86,1.92,1.98,2.05,2.12,2.18,2.24,2.29],
    "g21": [0,0,0,0,0,0,0,0,0,0,0,0,0,0,0,0,0,0,0,0,0,0,0,0,0,0,0,0,0,0,0,0,0.31,0.34,0.42,0.47,0.52,0.88,0.92,1.72]
  },
  "encoding": {
    "x": {"field": "x", "type": "quantitative", "stack": null, "title": "Identity",
      "scale": {"domain": [0.4, 21.6], "nice": false, "zero": false},
      "axis": {"values": [1,2,3,4,5,6,7,8,9,10,11,12,13,14,15,16,17,18,19,20,21], "format": "d", "labelAngle": -45, "labelAlign": "right", "labelBaseline": "top", "labelPadding": 3, "titlePadding": 4}},
    "y": {"field": "v", "type": "quantitative", "title": "Expression Level",
      "scale": {"domain": [-0.152, 3.192], "nice": false, "zero": false},
      "axis": {"values": [0, 1, 2, 3], "labelPadding": 3, "titlePadding": 4}}
  },
  "layer": [
    {
      "data": {"name": "violin"},
      "transform": [
        {"calculate": "datum.g - datum.w", "as": "x"},
        {"calculate": "datum.g + datum.w", "as": "x2"}
      ],
      "mark": {"type": "area", "orient": "horizontal", "stroke": "#1a1a1a", "strokeWidth": 0.9, "fillOpacity": 1},
      "encoding": {
        "x2": {"field": "x2"},
        "color": {"field": "g", "type": "nominal",
          "scale": {"domain": [1,2,3,4,5,6,7,8,9,10,11,12,13,14,15,16,17,18,19,20,21],
            "range": ["#F8766D","#EB8335","#DA8F00","#C49A00","#A9A400","#86AC00","#53B400","#00BA38","#00BE6C","#00C094","#00C0B8","#00BCD8","#00B4EF","#00A9FF","#619CFF","#A58AFF","#CB7AFF","#E96AF0","#FA62DB","#FF63B6","#FF6C91"]},
          "legend": {"title": null, "orient": "none", "legendX": 465, "legendY": 176, "columns": 2, "symbolType": "square", "symbolSize": 200, "symbolStrokeColor": "#333", "symbolStrokeWidth": 1, "symbolOpacity": 1, "rowPadding": -5, "columnPadding": 15, "labelOffset": 6}}
      }
    },
    {"data": {"name": "g1"}, "transform": [{"window": [{"op": "row_number", "as": "i"}]}, {"calculate": "1 + (abs(sin(datum.i * 12.9898 + 1 * 78.233) * 43758.5453) % 1 - 0.5) * 0.86", "as": "x"}, {"calculate": "datum.data", "as": "v"}], "mark": "square"},
    {"data": {"name": "g2"}, "transform": [{"window": [{"op": "row_number", "as": "i"}]}, {"calculate": "2 + (abs(sin(datum.i * 12.9898 + 2 * 78.233) * 43758.5453) % 1 - 0.5) * 0.86", "as": "x"}, {"calculate": "datum.data", "as": "v"}], "mark": "square"},
    {"data": {"name": "g3"}, "transform": [{"window": [{"op": "row_number", "as": "i"}]}, {"calculate": "3 + (abs(sin(datum.i * 12.9898 + 3 * 78.233) * 43758.5453) % 1 - 0.5) * 0.86", "as": "x"}, {"calculate": "datum.data", "as": "v"}], "mark": "square"},
    {"data": {"name": "g4"}, "transform": [{"window": [{"op": "row_number", "as": "i"}]}, {"calculate": "4 + (abs(sin(datum.i * 12.9898 + 4 * 78.233) * 43758.5453) % 1 - 0.5) * 0.86", "as": "x"}, {"calculate": "datum.data", "as": "v"}], "mark": "square"},
    {"data": {"name": "g5"}, "transform": [{"window": [{"op": "row_number", "as": "i"}]}, {"calculate": "5 + (abs(sin(datum.i * 12.9898 + 5 * 78.233) * 43758.5453) % 1 - 0.5) * 0.86", "as": "x"}, {"calculate": "datum.data", "as": "v"}], "mark": "square"},
    {"data": {"name": "g6"}, "transform": [{"window": [{"op": "row_number", "as": "i"}]}, {"calculate": "6 + (abs(sin(datum.i * 12.9898 + 6 * 78.233) * 43758.5453) % 1 - 0.5) * 0.86", "as": "x"}, {"calculate": "datum.data", "as": "v"}], "mark": "square"},
    {"data": {"name": "g7"}, "transform": [{"window": [{"op": "row_number", "as": "i"}]}, {"calculate": "7 + (abs(sin(datum.i * 12.9898 + 7 * 78.233) * 43758.5453) % 1 - 0.5) * 0.86", "as": "x"}, {"calculate": "datum.data", "as": "v"}], "mark": "square"},
    {"data": {"name": "g8"}, "transform": [{"window": [{"op": "row_number", "as": "i"}]}, {"calculate": "8 + (abs(sin(datum.i * 12.9898 + 8 * 78.233) * 43758.5453) % 1 - 0.5) * 0.86", "as": "x"}, {"calculate": "datum.data", "as": "v"}], "mark": "square"},
    {"data": {"name": "g9"}, "transform": [{"window": [{"op": "row_number", "as": "i"}]}, {"calculate": "9 + (abs(sin(datum.i * 12.9898 + 9 * 78.233) * 43758.5453) % 1 - 0.5) * 0.86", "as": "x"}, {"calculate": "datum.data", "as": "v"}], "mark": "square"},
    {"data": {"name": "g10"}, "transform": [{"window": [{"op": "row_number", "as": "i"}]}, {"calculate": "10 + (abs(sin(datum.i * 12.9898 + 10 * 78.233) * 43758.5453) % 1 - 0.5) * 0.86", "as": "x"}, {"calculate": "datum.data", "as": "v"}], "mark": "square"},
    {"data": {"name": "g11"}, "transform": [{"window": [{"op": "row_number", "as": "i"}]}, {"calculate": "11 + (abs(sin(datum.i * 12.9898 + 11 * 78.233) * 43758.5453) % 1 - 0.5) * 0.86", "as": "x"}, {"calculate": "datum.data", "as": "v"}], "mark": "square"},
    {"data": {"name": "g12"}, "transform": [{"window": [{"op": "row_number", "as": "i"}]}, {"calculate": "12 + (abs(sin(datum.i * 12.9898 + 12 * 78.233) * 43758.5453) % 1 - 0.5) * 0.86", "as": "x"}, {"calculate": "datum.data", "as": "v"}], "mark": "square"},
    {"data": {"name": "g13"}, "transform": [{"window": [{"op": "row_number", "as": "i"}]}, {"calculate": "13 + (abs(sin(datum.i * 12.9898 + 13 * 78.233) * 43758.5453) % 1 - 0.5) * 0.86", "as": "x"}, {"calculate": "datum.data", "as": "v"}], "mark": "square"},
    {"data": {"name": "g14"}, "transform": [{"window": [{"op": "row_number", "as": "i"}]}, {"calculate": "14 + (abs(sin(datum.i * 12.9898 + 14 * 78.233) * 43758.5453) % 1 - 0.5) * 0.86", "as": "x"}, {"calculate": "datum.data", "as": "v"}], "mark": "square"},
    {"data": {"name": "g15"}, "transform": [{"window": [{"op": "row_number", "as": "i"}]}, {"calculate": "15 + (abs(sin(datum.i * 12.9898 + 15 * 78.233) * 43758.5453) % 1 - 0.5) * 0.86", "as": "x"}, {"calculate": "datum.data", "as": "v"}], "mark": "square"},
    {"data": {"name": "g16"}, "transform": [{"window": [{"op": "row_number", "as": "i"}]}, {"calculate": "16 + (abs(sin(datum.i * 12.9898 + 16 * 78.233) * 43758.5453) % 1 - 0.5) * 0.86", "as": "x"}, {"calculate": "datum.data", "as": "v"}], "mark": "square"},
    {"data": {"name": "g17"}, "transform": [{"window": [{"op": "row_number", "as": "i"}]}, {"calculate": "17 + (abs(sin(datum.i * 12.9898 + 17 * 78.233) * 43758.5453) % 1 - 0.5) * 0.86", "as": "x"}, {"calculate": "datum.data", "as": "v"}], "mark": "square"},
    {"data": {"name": "g18"}, "transform": [{"window": [{"op": "row_number", "as": "i"}]}, {"calculate": "18 + (abs(sin(datum.i * 12.9898 + 18 * 78.233) * 43758.5453) % 1 - 0.5) * 0.86", "as": "x"}, {"calculate": "datum.data", "as": "v"}], "mark": "square"},
    {"data": {"name": "g19"}, "transform": [{"window": [{"op": "row_number", "as": "i"}]}, {"calculate": "19 + (abs(sin(datum.i * 12.9898 + 19 * 78.233) * 43758.5453) % 1 - 0.5) * 0.86", "as": "x"}, {"calculate": "datum.data", "as": "v"}], "mark": "square"},
    {"data": {"name": "g20"}, "transform": [{"window": [{"op": "row_number", "as": "i"}]}, {"calculate": "20 + (abs(sin(datum.i * 12.9898 + 20 * 78.233) * 43758.5453) % 1 - 0.5) * 0.86", "as": "x"}, {"calculate": "datum.data", "as": "v"}], "mark": "square"},
    {"data": {"name": "g21"}, "transform": [{"window": [{"op": "row_number", "as": "i"}]}, {"calculate": "21 + (abs(sin(datum.i * 12.9898 + 21 * 78.233) * 43758.5453) % 1 - 0.5) * 0.86", "as": "x"}, {"calculate": "datum.data", "as": "v"}], "mark": "square"}
  ]
}
